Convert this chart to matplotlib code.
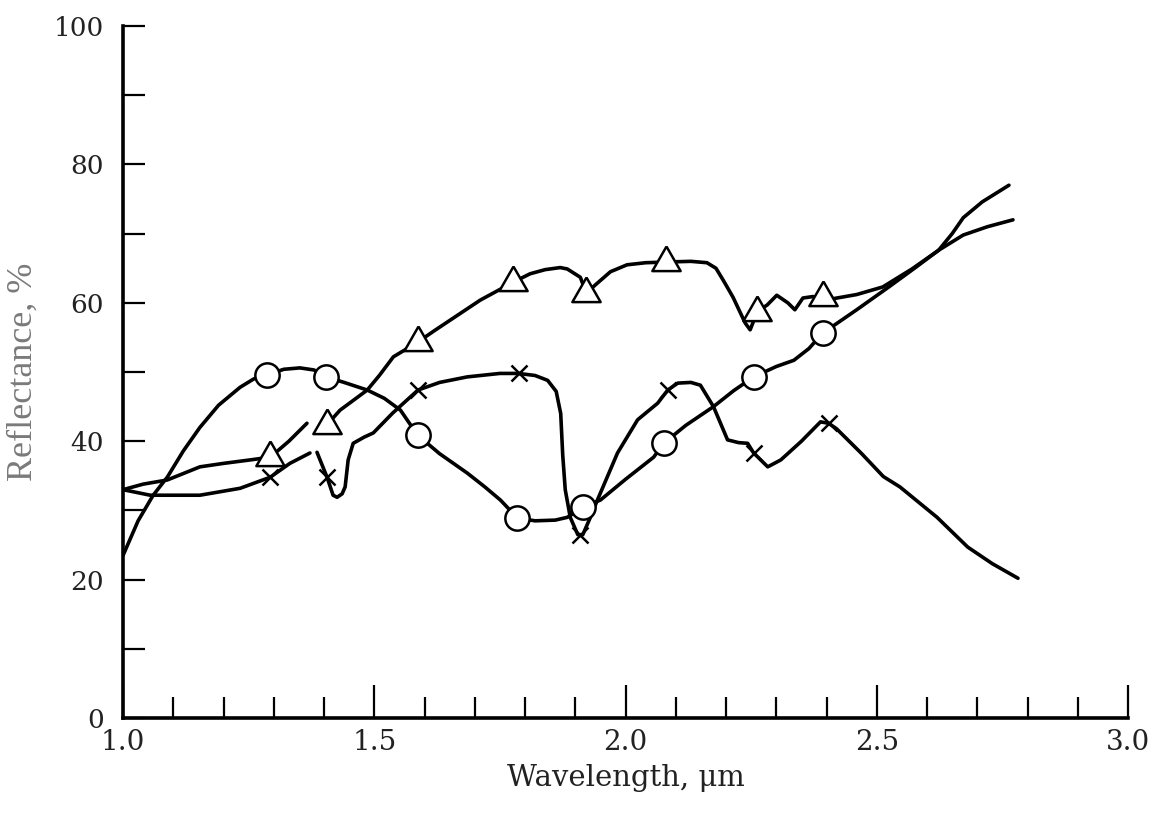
import numpy as np
import matplotlib
matplotlib.use('Agg')
import matplotlib.pyplot as plt
from matplotlib.ticker import MultipleLocator

# wavelength (um) / reflectance (%) traces
wl_circ = [1.0, 1.03, 1.06, 1.088, 1.12, 1.153, 1.19, 1.233, 1.26, 1.287, 1.32, 1.352,
           1.38, 1.404, 1.44, 1.486, 1.52, 1.552, 1.586, 1.63, 1.685, 1.72, 1.751,
           1.785, 1.82, 1.86, 1.884, 1.916, 1.95, 2.0, 2.056, 2.076, 2.12, 2.175,
           2.215, 2.255, 2.3, 2.335, 2.365, 2.392, 2.46, 2.524, 2.575, 2.623, 2.65,
           2.672, 2.71, 2.763]
rf_circ = [23.5, 28.5, 32.2, 34.8, 38.6, 42.0, 45.2, 47.8, 49.0, 49.6, 50.4, 50.6,
           50.3, 49.3, 48.5, 47.4, 46.2, 44.5, 40.9, 38.2, 35.4, 33.4, 31.5,
           28.9, 28.5, 28.6, 29.0, 30.5, 31.5, 34.5, 37.7, 39.7, 42.3, 45.0,
           47.3, 49.3, 50.8, 51.7, 53.4, 55.6, 59.0, 62.3, 65.0, 67.6, 70.0,
           72.3, 74.6, 77.0]

wl_tri = [1.0, 1.04, 1.088, 1.153, 1.2, 1.253, 1.293, 1.33, 1.366, np.nan,
          1.406, 1.432, 1.46, 1.486, 1.51, 1.538, 1.586, 1.62, 1.651, 1.711, 1.777,
          1.81, 1.84, 1.87, 1.884, 1.91, 1.922, 1.94, 1.97, 2.003, 2.04, 2.081,
          2.13, 2.162, 2.18, 2.195, 2.214, 2.238, 2.248, 2.262, 2.282, 2.301,
          2.323, 2.337, 2.353, 2.372, 2.393, 2.413, 2.46, 2.512, 2.57, 2.623,
          2.672, 2.72, 2.771]
rf_tri = [33.0, 33.8, 34.4, 36.3, 36.8, 37.3, 37.7, 40.0, 42.6, np.nan,
          42.4, 44.5, 46.0, 47.4, 49.5, 52.2, 54.3, 56.0, 57.5, 60.4, 63.0,
          64.2, 64.8, 65.1, 64.9, 63.7, 61.4, 62.6, 64.5, 65.5, 65.8, 65.9,
          66.0, 65.8, 65.0, 63.2, 60.8, 57.1, 56.1, 58.7, 59.7, 61.1,
          60.0, 59.0, 60.7, 60.9, 60.8, 60.6, 61.2, 62.3, 64.9, 67.6,
          69.8, 71.0, 72.0]

wl_x = [1.0, 1.054, 1.153, 1.233, 1.293, 1.332, 1.372, np.nan,
        1.386, 1.406, 1.418, 1.426, 1.436, 1.442, 1.448, 1.458, 1.48, 1.498, 1.537,
        1.587, 1.63, 1.685, 1.75, 1.787, 1.82, 1.845, 1.862, 1.871, 1.875, 1.88,
        1.89, 1.905, 1.915, 1.93, 1.944, 1.984, 2.024, 2.064, 2.084, 2.104, 2.13,
        2.149, 2.175, 2.203, 2.225, 2.243, 2.255, 2.283, 2.309, 2.35, 2.388,
        2.404, 2.42, 2.47, 2.513, 2.546, 2.62, 2.681, 2.73, 2.781]
rf_x = [33.0, 32.2, 32.2, 33.2, 34.8, 36.8, 38.3, np.nan,
        38.4, 34.8, 32.2, 31.9, 32.4, 33.4, 37.3, 39.7, 40.6, 41.2, 44.1,
        47.4, 48.5, 49.3, 49.8, 49.8, 49.5, 48.8, 47.2, 44.0, 38.0, 33.0,
        29.0, 26.5, 26.5, 29.0, 31.5, 38.3, 43.1, 45.5, 47.4, 48.4, 48.5,
        48.1, 45.0, 40.2, 39.8, 39.7, 38.3, 36.3, 37.3, 40.0, 42.8,
        42.6, 41.8, 38.2, 34.9, 33.4, 29.0, 24.7, 22.3, 20.2]

# sample markers on each curve
mk_circ_wl = [1.287, 1.404, 1.586, 1.785, 1.916, 2.076, 2.255, 2.392]
mk_circ_rf = [49.6, 49.3, 40.9, 28.9, 30.5, 39.7, 49.3, 55.6]
mk_tri_wl = [1.293, 1.406, 1.586, 1.777, 1.922, 2.081, 2.262, 2.393]
mk_tri_rf = [37.7, 42.4, 54.3, 63.0, 61.4, 65.9, 58.7, 60.8]
mk_x_wl = [1.293, 1.406, 1.587, 1.787, 1.91, 2.084, 2.255, 2.404]
mk_x_rf = [34.8, 34.8, 47.4, 49.8, 26.5, 47.4, 38.3, 42.6]

fig = plt.figure(figsize=(11.52, 8.15), dpi=100)
ax = fig.add_axes([0.1068, 0.119, 0.8724, 0.849])

kw = dict(color='black', lw=2.6, solid_joinstyle='round', solid_capstyle='round')
ax.plot(wl_circ, rf_circ, **kw)
ax.plot(wl_tri, rf_tri, **kw)
ax.plot(wl_x, rf_x, **kw)

# triangle sits a bit above the curve, like the drawn symbols
tri = [(0, 1.3), (-1.15, -0.7), (1.15, -0.7), (0, 1.3)]
ax.plot(mk_circ_wl, mk_circ_rf, ls='none', marker='o', ms=17.5, mfc='white',
        mec='black', mew=1.8, zorder=3)
ax.plot(mk_tri_wl, mk_tri_rf, ls='none', marker=tri, ms=23, mfc='white',
        mec='black', mew=1.8, zorder=3)
ax.plot(mk_x_wl, mk_x_rf, ls='none', marker='x', ms=11, mec='black',
        mew=1.8, zorder=3)

ax.set_xlim(1.0, 3.0)
ax.set_ylim(0, 100)
ax.spines['top'].set_visible(False)
ax.spines['right'].set_visible(False)
ax.spines['left'].set_linewidth(2.6)
ax.spines['bottom'].set_linewidth(2.6)

ax.xaxis.set_major_locator(MultipleLocator(0.5))
ax.xaxis.set_minor_locator(MultipleLocator(0.1))
ax.yaxis.set_major_locator(MultipleLocator(20))
ax.yaxis.set_minor_locator(MultipleLocator(10))
ax.tick_params(axis='x', which='major', direction='in', length=24, width=1.6, pad=8)
ax.tick_params(axis='x', which='minor', direction='in', length=15, width=1.6)
ax.tick_params(axis='y', which='both', direction='in', length=16, width=1.6, pad=14)

ax.set_xticks([1.0, 1.5, 2.0, 2.5, 3.0])
ax.set_xticklabels(['1.0', '1.5', '2.0', '2.5', '3.0'])
for lab in ax.get_xticklabels():
    lab.set_fontfamily('DejaVu Serif')
    lab.set_fontsize(20)
    lab.set_color('#222222')
for lab in ax.get_yticklabels():
    lab.set_fontfamily('DejaVu Serif')
    lab.set_fontsize(19)
    lab.set_color('#222222')

ax.set_xlabel('Wavelength, μm', fontsize=21, family='DejaVu Serif',
              color='#222222', labelpad=6)
ax.set_ylabel('Reflectance, %', fontsize=26, family='Liberation Serif',
              color='#7a7a7a', labelpad=10)

fig.savefig('out.png', dpi=100)
